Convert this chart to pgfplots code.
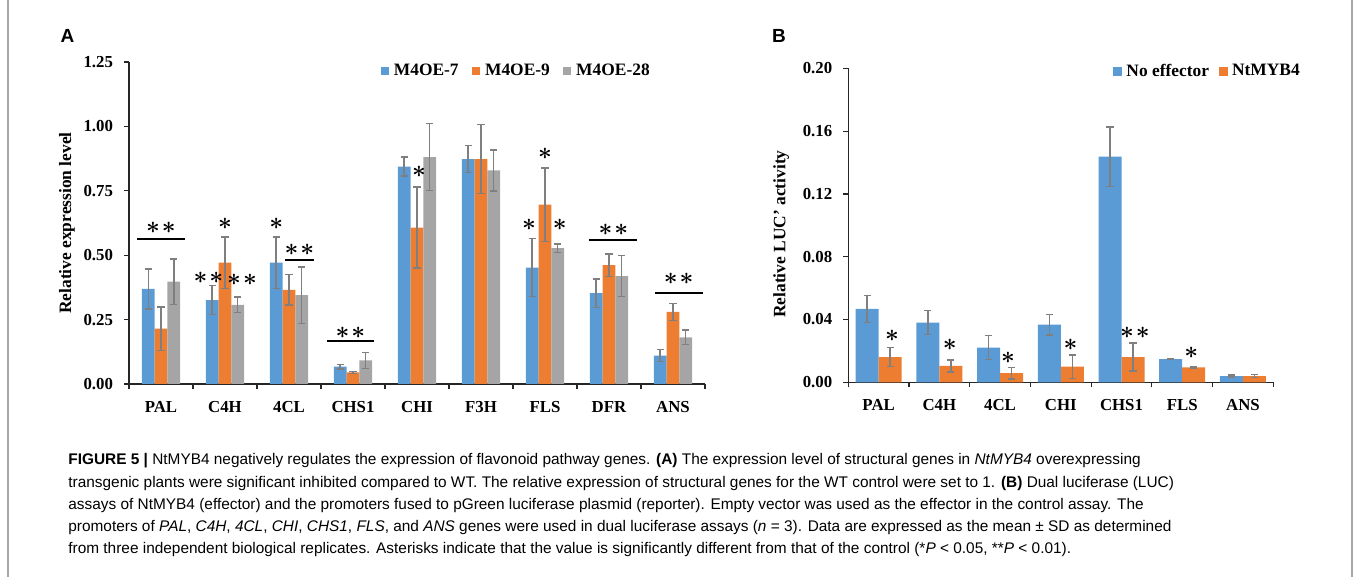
\documentclass[border=0pt]{standalone}
\usepackage{pgfplots}
\pgfplotsset{compat=1.18}
\usepackage{fontspec}
\setmainfont{Liberation Serif}
\newfontfamily\capfont{Liberation Sans}

\definecolor{exblue}{HTML}{5B9BD5}
\definecolor{exorange}{HTML}{ED7D31}
\definecolor{exgray}{HTML}{A5A5A5}
\definecolor{errgray}{HTML}{7F7F7F}
\definecolor{axisgray}{HTML}{262626}

% significance stars
\newcommand\st{{\fontsize{12.5}{12}\selectfont\boldmath$\ast$}}
\newcommand\dst{\st\kern1pt\st}

\pgfplotsset{
  excel bars/.style={
    scale only axis,
    clip=false,
    axis x line*=bottom, axis y line*=left,
    axis line style={-, axisgray, line width=0.6pt},
    tick style={axisgray, line width=0.6pt},
    tick align=outside, major tick length=2.5pt,
    label style={font=\bfseries\fontsize{8.7}{10}\selectfont},
    ticklabel style={font=\bfseries\fontsize{8.4}{10}\selectfont},
    xticklabel style={yshift=-2.5pt},
    yticklabel style={xshift=-2pt, /pgf/number format/.cd, fixed, fixed zerofill, precision=2, assume math mode=true},
    ymin=0,
    legend style={draw=none, fill=none, inner sep=0pt, legend columns=-1,
      font=\bfseries\fontsize{8.7}{10}\selectfont,
      nodes={inner xsep=2.5pt, inner ysep=0pt}},
  },
  err/.style={error bars/.cd, y dir=both, y explicit,
    error bar style={errgray, line width=0.7pt},
    error mark options={errgray, rotate=90, mark size=1.8pt, line width=0.7pt}},
}

\begin{document}
\begin{tikzpicture}
\begin{scope}[x=0.5pt, y=-0.5pt]
\useasboundingbox (0,0) rectangle (1357,577);
\draw[gray!70, line width=0.8pt] (8,0) -- (8,577);
\draw[gray!70, line width=0.8pt] (1352,0) -- (1352,577);

\node[font=\capfont\bfseries\fontsize{9.5}{10}\selectfont] at (67.5,36) {A};
\node[font=\capfont\bfseries\fontsize{9.5}{10}\selectfont] at (779,36) {B};

% ---------- caption ----------
\begin{scope}[every node/.style={anchor=base west, inner sep=0pt,
    font=\capfont\fontsize{7.7}{9}\selectfont}]
\node at (68,465) {\textbf{FIGURE 5 |} NtMYB4 negatively regulates the expression of flavonoid pathway genes. \textbf{(A)} The expression level of structural genes in \textit{NtMYB4} overexpressing};
\node at (68,487.2) {transgenic plants were significant inhibited compared to WT. The relative expression of structural genes for the WT control were set to 1. \textbf{(B)} Dual luciferase (LUC)};
\node at (68,509.4) {assays of NtMYB4 (effector) and the promoters fused to pGreen luciferase plasmid (reporter). Empty vector was used as the effector in the control assay. The};
\node at (68,531.6) {promoters of \textit{PAL}, \textit{C4H}, \textit{4CL}, \textit{CHI}, \textit{CHS1}, \textit{FLS}, and \textit{ANS} genes were used in dual luciferase assays (\textit{n} = 3). Data are expressed as the mean ± SD as determined};
\node at (68,553.8) {from three independent biological replicates. Asterisks indicate that the value is significantly different from that of the control (*\textit{P} < 0.05, **\textit{P} < 0.01).};
\end{scope}
\end{scope}

% ---------- panel A ----------
\begin{axis}[ybar=0pt, bar width=6.4pt, excel bars,
  at={(64.5pt,-192pt)}, anchor=south west, width=288pt, height=161pt,
  xmin=-0.5, xmax=8.5, ymax=1.25,
  xtick={-0.5,0.5,1.5,2.5,3.5,4.5,5.5,6.5,7.5,8.5},
  xticklabels={PAL,C4H,4CL,CHS1,CHI,F3H,FLS,DFR,ANS,},
  xticklabel style={xshift=16pt},
  ytick={0,0.25,0.5,0.75,1,1.25},
  ylabel={Relative expression level},
  ylabel style={at={(axis description cs:-0.1076,0.5)}, anchor=center},
  legend image code/.code={\fill[#1] (0pt,-2.1pt) rectangle (4.2pt,2.1pt);},
  legend style={at={(axis description cs:0.436,0.972)}, anchor=west,
    /tikz/every even column/.append style={column sep=4pt}},
]
\addplot[fill=exblue, draw=none, err] coordinates {
  (0,0.369) +- (0,0.078) (1,0.326) +- (0,0.057) (2,0.471) +- (0,0.100)
  (3,0.067) +- (0,0.009) (4,0.844) +- (0,0.037) (5,0.873) +- (0,0.053)
  (6,0.452) +- (0,0.112) (7,0.353) +- (0,0.055) (8,0.110) +- (0,0.023)};
\addplot[fill=exorange, draw=none, err] coordinates {
  (0,0.215) +- (0,0.084) (1,0.471) +- (0,0.100) (2,0.365) +- (0,0.059)
  (3,0.045) +- (0,0.004) (4,0.607) +- (0,0.157) (5,0.873) +- (0,0.134)
  (6,0.696) +- (0,0.143) (7,0.461) +- (0,0.043) (8,0.280) +- (0,0.033)};
\addplot[fill=exgray, draw=none, err] coordinates {
  (0,0.397) +- (0,0.089) (1,0.307) +- (0,0.030) (2,0.345) +- (0,0.109)
  (3,0.092) +- (0,0.031) (4,0.881) +- (0,0.131) (5,0.829) +- (0,0.080)
  (6,0.527) +- (0,0.017) (7,0.419) +- (0,0.080) (8,0.181) +- (0,0.028)};
\legend{M4OE-7, M4OE-9, M4OE-28}

\draw[line width=0.9pt] (axis cs:-0.375,0.564) -- (axis cs:0.375,0.564);
\node at (axis cs:0.0,0.607) {\dst};
\node at (axis cs:0.74,0.414) {\dst};
\node at (axis cs:1.0,0.620) {\st};
\node at (axis cs:1.266,0.406) {\dst};
\node at (axis cs:1.8,0.620) {\st};
\draw[line width=0.9pt] (axis cs:1.94,0.481) -- (axis cs:2.39,0.481);
\node at (axis cs:2.164,0.520) {\dst};
\draw[line width=0.9pt] (axis cs:2.59,0.168) -- (axis cs:3.33,0.168);
\node at (axis cs:2.96,0.200) {\dst};
\node at (axis cs:4.03,0.824) {\st};
\node at (axis cs:5.75,0.617) {\st};
\node at (axis cs:6.0,0.895) {\st};
\node at (axis cs:6.23,0.617) {\st};
\draw[line width=0.9pt] (axis cs:6.69,0.559) -- (axis cs:7.44,0.559);
\node at (axis cs:7.07,0.598) {\dst};
\draw[line width=0.9pt] (axis cs:7.72,0.352) -- (axis cs:8.47,0.352);
\node at (axis cs:8.09,0.410) {\dst};
\end{axis}

% ---------- panel B ----------
\begin{axis}[ybar=0pt, bar width=11.5pt, excel bars,
  at={(424.15pt,-191.15pt)}, anchor=south west, width=212.5pt, height=157pt,
  xmin=-0.5, xmax=6.5, ymax=0.2,
  xtick={-0.5,0.5,1.5,2.5,3.5,4.5,5.5,6.5},
  xticklabels={PAL,C4H,4CL,CHI,CHS1,FLS,ANS,},
  xticklabel style={xshift=15.18pt},
  ytick={0,0.04,0.08,0.12,0.16,0.2},
  ylabel={Relative LUC' activity},
  ylabel style={at={(axis description cs:-0.158,0.472)}, anchor=center},
  legend image code/.code={\fill[#1] (0pt,-2.25pt) rectangle (4.5pt,2.25pt);},
  legend style={at={(axis description cs:0.623,0.99)}, anchor=west,
    nodes={inner xsep=2pt, inner ysep=0pt},
    /tikz/every even column/.append style={column sep=3pt}},
]
\addplot[fill=exblue, draw=none, err] coordinates {
  (0,0.0467) +- (0,0.0085) (1,0.0380) +- (0,0.0076) (2,0.0221) +- (0,0.0077)
  (3,0.0367) +- (0,0.0066) (4,0.1438) +- (0,0.0189) (5,0.0148) +- (0,0.0003)
  (6,0.0040) +- (0,0.0006)};
\addplot[fill=exorange, draw=none, err] coordinates {
  (0,0.0161) +- (0,0.0062) (1,0.0104) +- (0,0.0038) (2,0.0059) +- (0,0.0037)
  (3,0.0100) +- (0,0.0074) (4,0.0161) +- (0,0.0090) (5,0.0095) +- (0,0.0003)
  (6,0.0040) +- (0,0.0009)};
\legend{No effector, NtMYB4}

\node at (axis cs:0.22,0.0295) {\st};
\node at (axis cs:1.17,0.0238) {\st};
\node at (axis cs:2.13,0.0153) {\st};
\node at (axis cs:3.16,0.0238) {\st};
\node at (axis cs:4.22,0.0312) {\dst};
\node at (axis cs:5.15,0.0185) {\st};
\end{axis}
\end{tikzpicture}
\end{document}
